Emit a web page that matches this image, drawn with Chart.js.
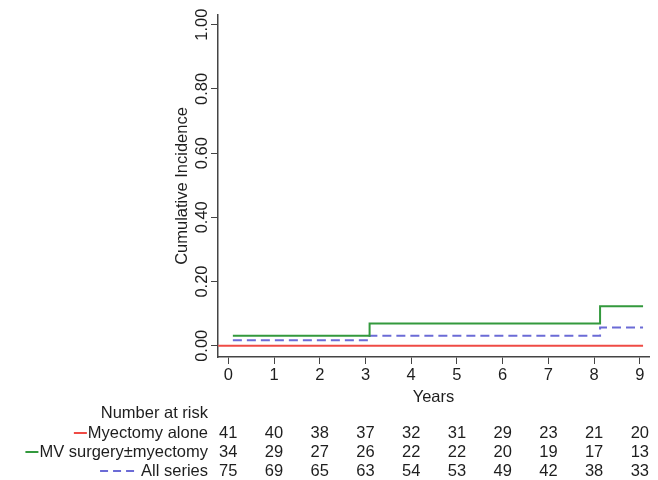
<!DOCTYPE html>
<html>
<head>
<meta charset="utf-8">
<script src="https://cdn.jsdelivr.net/npm/chart.js@4"></script>
<style>
  body { margin: 0; background: #fff; }
  canvas { display: block; }
</style>
</head>
<body>
<canvas id="chart" width="658" height="480"></canvas>
<script>
/* DATA */
const myectomyX = [-0.22, 9.07];
const myectomyY = [0, 0];
const mvX = [0.1, 3.09, 8.13, 9.07];
const mvY = [0.031, 0.069, 0.123, 0.123];
const allX = [0.1, 3.09, 8.13, 9.07];
const allY = [0.017, 0.031, 0.057, 0.057];

const xTicks = [0, 1, 2, 3, 4, 5, 6, 7, 8, 9];
const yTicks = [0, 0.2, 0.4, 0.6, 0.8, 1.0];

const riskLabels = ['Myectomy alone', 'MV surgery\u00b1myectomy', 'All series'];
const riskMyectomy = [41, 40, 38, 37, 32, 31, 29, 23, 21, 20];
const riskMv = [34, 29, 27, 26, 22, 22, 20, 19, 17, 13];
const riskAll = [75, 69, 65, 63, 54, 53, 49, 42, 38, 33];

const RED = '#ef4b45';
const GREEN = '#33993d';
const BLUE = '#6b6bd6';
const TEXT = '#1e1e1e';
const FAMILY = '"Liberation Sans", Arial, sans-serif';
const FONT = '16.5px ' + FAMILY;

const toPoints = (xs, ys) => xs.map((x, i) => ({ x: x, y: ys[i] }));

/* draws y labels, title and the number-at-risk table */
const extras = {
  id: 'extras',
  afterDraw(chart) {
    const ctx = chart.ctx;
    const xs = chart.scales.x;
    const ys = chart.scales.y;
    ctx.save();
    ctx.fillStyle = TEXT;
    ctx.font = FONT;
    ctx.textAlign = 'center';
    ctx.textBaseline = 'middle';

    yTicks.forEach(v => {
      ctx.save();
      ctx.translate(202, ys.getPixelForValue(v));
      ctx.rotate(-Math.PI / 2);
      ctx.fillText(v.toFixed(2), 0, 0);
      ctx.restore();
    });
    ctx.save();
    ctx.translate(182, (chart.chartArea.top + chart.chartArea.bottom) / 2);
    ctx.rotate(-Math.PI / 2);
    ctx.fillText('Cumulative Incidence', 0, 0);
    ctx.restore();

    // number at risk
    const rowY = [433, 452, 471];
    const rows = [riskMyectomy, riskMv, riskAll];
    ctx.textAlign = 'right';
    ctx.fillText('Number at risk', 208, 413);
    riskLabels.forEach((lab, i) => ctx.fillText(lab, 208, rowY[i]));
    ctx.textAlign = 'center';
    rows.forEach((row, i) => {
      row.forEach((n, j) => ctx.fillText(String(n), xs.getPixelForValue(xTicks[j]), rowY[i]));
    });

    // legend keys
    ctx.lineWidth = 2;
    const keys = [[RED, 208 - ctx.measureText(riskLabels[0]).width, rowY[0], 13, []],
                  [GREEN, 208 - ctx.measureText(riskLabels[1]).width, rowY[1], 13, []],
                  [BLUE, 208 - ctx.measureText(riskLabels[2]).width - 6, rowY[2], 34, [8, 5]]];
    keys.forEach(([c, end, y, len, dash]) => {
      ctx.strokeStyle = c;
      ctx.setLineDash(dash);
      ctx.beginPath();
      ctx.moveTo(end - len - 1, y);
      ctx.lineTo(end - 1, y);
      ctx.stroke();
    });
    ctx.restore();
  }
};

new Chart(document.getElementById('chart'), {
  type: 'line',
  data: {
    datasets: [
      { label: 'Myectomy alone', data: toPoints(myectomyX, myectomyY), borderColor: RED, borderWidth: 2, stepped: 'before' },
      { label: 'MV surgery\u00b1myectomy', data: toPoints(mvX, mvY), borderColor: GREEN, borderWidth: 2, stepped: 'before' },
      { label: 'All series', data: toPoints(allX, allY), borderColor: BLUE, borderWidth: 2, borderDash: [9, 5], stepped: 'before' }
    ]
  },
  options: {
    responsive: false,
    animation: false,
    layout: { padding: { top: 15, right: 9, bottom: 73, left: 0 } },
    elements: { point: { radius: 0 } },
    plugins: { legend: { display: false }, tooltip: { enabled: false } },
    scales: {
      x: {
        type: 'linear',
        min: -0.225,
        max: 9.2,
        afterBuildTicks: s => { s.ticks = xTicks.map(v => ({ value: v })); },
        afterFit: s => { s.height = 50; },
        grid: { drawOnChartArea: false, drawTicks: true, tickLength: 7, color: '#444', lineWidth: 1 },
        border: { color: '#444', width: 1.5 },
        ticks: { color: TEXT, font: { family: FAMILY, size: 16.5 }, padding: 2, maxRotation: 0, autoSkip: false },
        title: { display: true, text: 'Years', color: TEXT, font: { family: FAMILY, size: 16.5 }, padding: { top: -8, bottom: 0 } }
      },
      y: {
        type: 'linear',
        min: -0.035,
        max: 1.03,
        afterBuildTicks: s => { s.ticks = yTicks.map(v => ({ value: v })); },
        afterFit: s => { s.width = 218; },
        grid: { drawOnChartArea: false, drawTicks: true, tickLength: 7, color: '#444', lineWidth: 1 },
        border: { color: '#444', width: 1.5 },
        ticks: { display: false }
      }
    }
  },
  plugins: [extras]
});
</script>
</body>
</html>
